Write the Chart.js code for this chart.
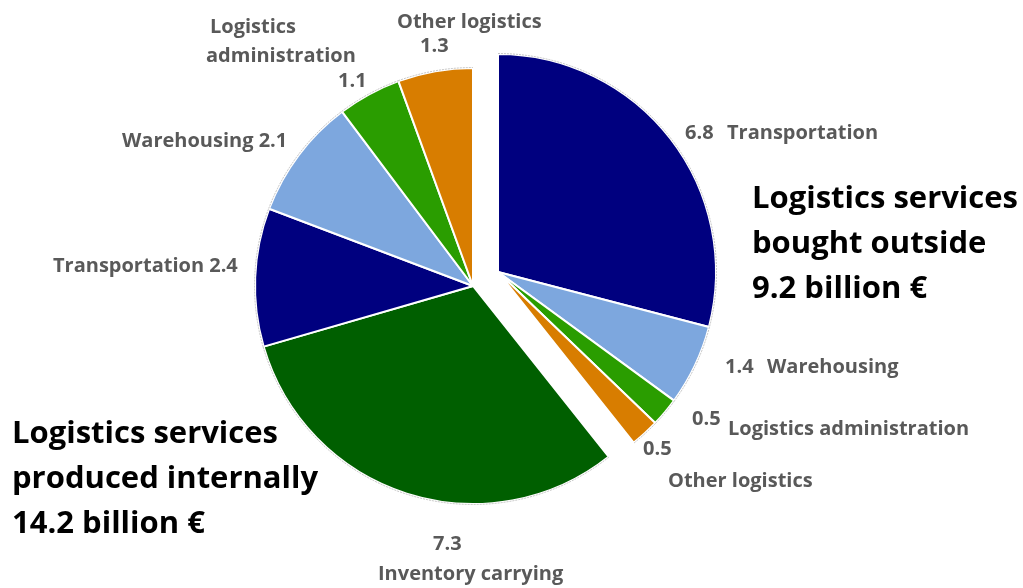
<!DOCTYPE html>
<html>
<head>
<meta charset="utf-8">
<script src="https://cdn.jsdelivr.net/npm/chart.js@4"></script>
<style>
  html, body { margin: 0; padding: 0; background: #fff; }
</style>
</head>
<body>
<canvas id="pie" width="1023" height="588"></canvas>
<script>
// slices, clockwise from 12 o'clock
const categories = ["Transportation", "Warehousing", "Logistics administration", "Other logistics",
                    "Inventory carrying", "Transportation", "Warehousing", "Logistics administration", "Other logistics"];
const groups = ["outside", "outside", "outside", "outside",
                "internal", "internal", "internal", "internal", "internal"];
const values = [6.8, 1.4, 0.5, 0.5, 7.3, 2.4, 2.1, 1.1, 1.3];
const groupTitles = {
    outside: ["Logistics services", "bought outside", "9.2 billion €"],
    internal: ["Logistics services", "produced internally", "14.2 billion €"]
};

const colors = ["#00007f", "#7da7de", "#2a9d00", "#d87d00",
                "#005f00", "#00007f", "#7da7de", "#2a9d00", "#d87d00"];

// hand-placed labels: value spot (null = right after the name) and name lines
const labelSpots = [
    { v: [685, 139], n: [[727, 139]] },
    { v: [725, 373], n: [[767, 373]] },
    { v: [692, 425], n: [[728, 435]] },
    { v: [643, 455], n: [[668, 487]] },
    { v: [433, 550], n: [[378, 580]] },
    { v: null, n: [[53, 272]] },
    { v: null, n: [[122, 147]] },
    { v: [338, 87],  n: [[210, 33], [206, 62]] },
    { v: [420, 52],  n: [[397, 28]] }
];
const nameLines = {
    7: ["Logistics", "administration"]
};
const titleSpots = { outside: [752, 208], internal: [12, 443] };

// the bought-outside slices are pulled out together
const outsideShift = { x: 25, y: -14 };

const explodeGroup = {
    id: "explodeGroup",
    afterDatasetsUpdate(chart) {
        const meta = chart.getDatasetMeta(0);
        meta.data.forEach((arc, i) => {
            if (groups[i] === "outside") {
                arc.x += outsideShift.x;
                arc.y += outsideShift.y;
            }
        });
    },
    afterDatasetsDraw(chart) {
        // faint grey rim along the outer edge
        const ctx = chart.ctx;
        ctx.save();
        ctx.strokeStyle = "rgba(160,160,160,0.6)";
        ctx.lineWidth = 1;
        ctx.setLineDash([2, 1]);
        chart.getDatasetMeta(0).data.forEach(arc => {
            ctx.beginPath();
            ctx.arc(arc.x, arc.y, arc.outerRadius + 0.5, arc.startAngle, arc.endAngle);
            ctx.stroke();
        });
        ctx.restore();
    }
};

const labels = {
    id: "labels",
    afterDraw(chart) {
        const ctx = chart.ctx;
        ctx.save();
        ctx.textAlign = "left";
        ctx.textBaseline = "alphabetic";
        ctx.fillStyle = "#595959";
        ctx.font = "bold 20px 'Open Sans'";
        labelSpots.forEach((s, i) => {
            const lines = nameLines[i] || [categories[i]];
            lines.forEach((t, j) => ctx.fillText(t, s.n[j][0], s.n[j][1]));
            const val = values[i].toFixed(1);
            if (s.v) {
                ctx.fillText(val, s.v[0], s.v[1]);
            } else {
                const [x, y] = s.n[0];
                ctx.fillText(val, x + ctx.measureText(lines[0] + " ").width, y);
            }
        });
        ctx.fillStyle = "#000";
        ctx.font = "bold 31px 'Open Sans'";
        Object.keys(groupTitles).forEach(g => {
            const [x, y] = titleSpots[g];
            groupTitles[g].forEach((t, j) => ctx.fillText(t, x, y + j * 45));
        });
        ctx.restore();
    }
};

new Chart(document.getElementById("pie"), {
    type: "pie",
    data: {
        labels: categories,
        datasets: [{
            data: values,
            backgroundColor: colors,
            borderColor: "#ffffff",
            borderWidth: 2,
            radius: 218
        }]
    },
    options: {
        responsive: false,
        animation: false,
        layout: { padding: { left: 0, top: 0, right: 77, bottom: 16 } },
        plugins: {
            legend: { display: false },
            tooltip: { enabled: false }
        }
    },
    plugins: [explodeGroup, labels]
});
</script>
</body>
</html>
